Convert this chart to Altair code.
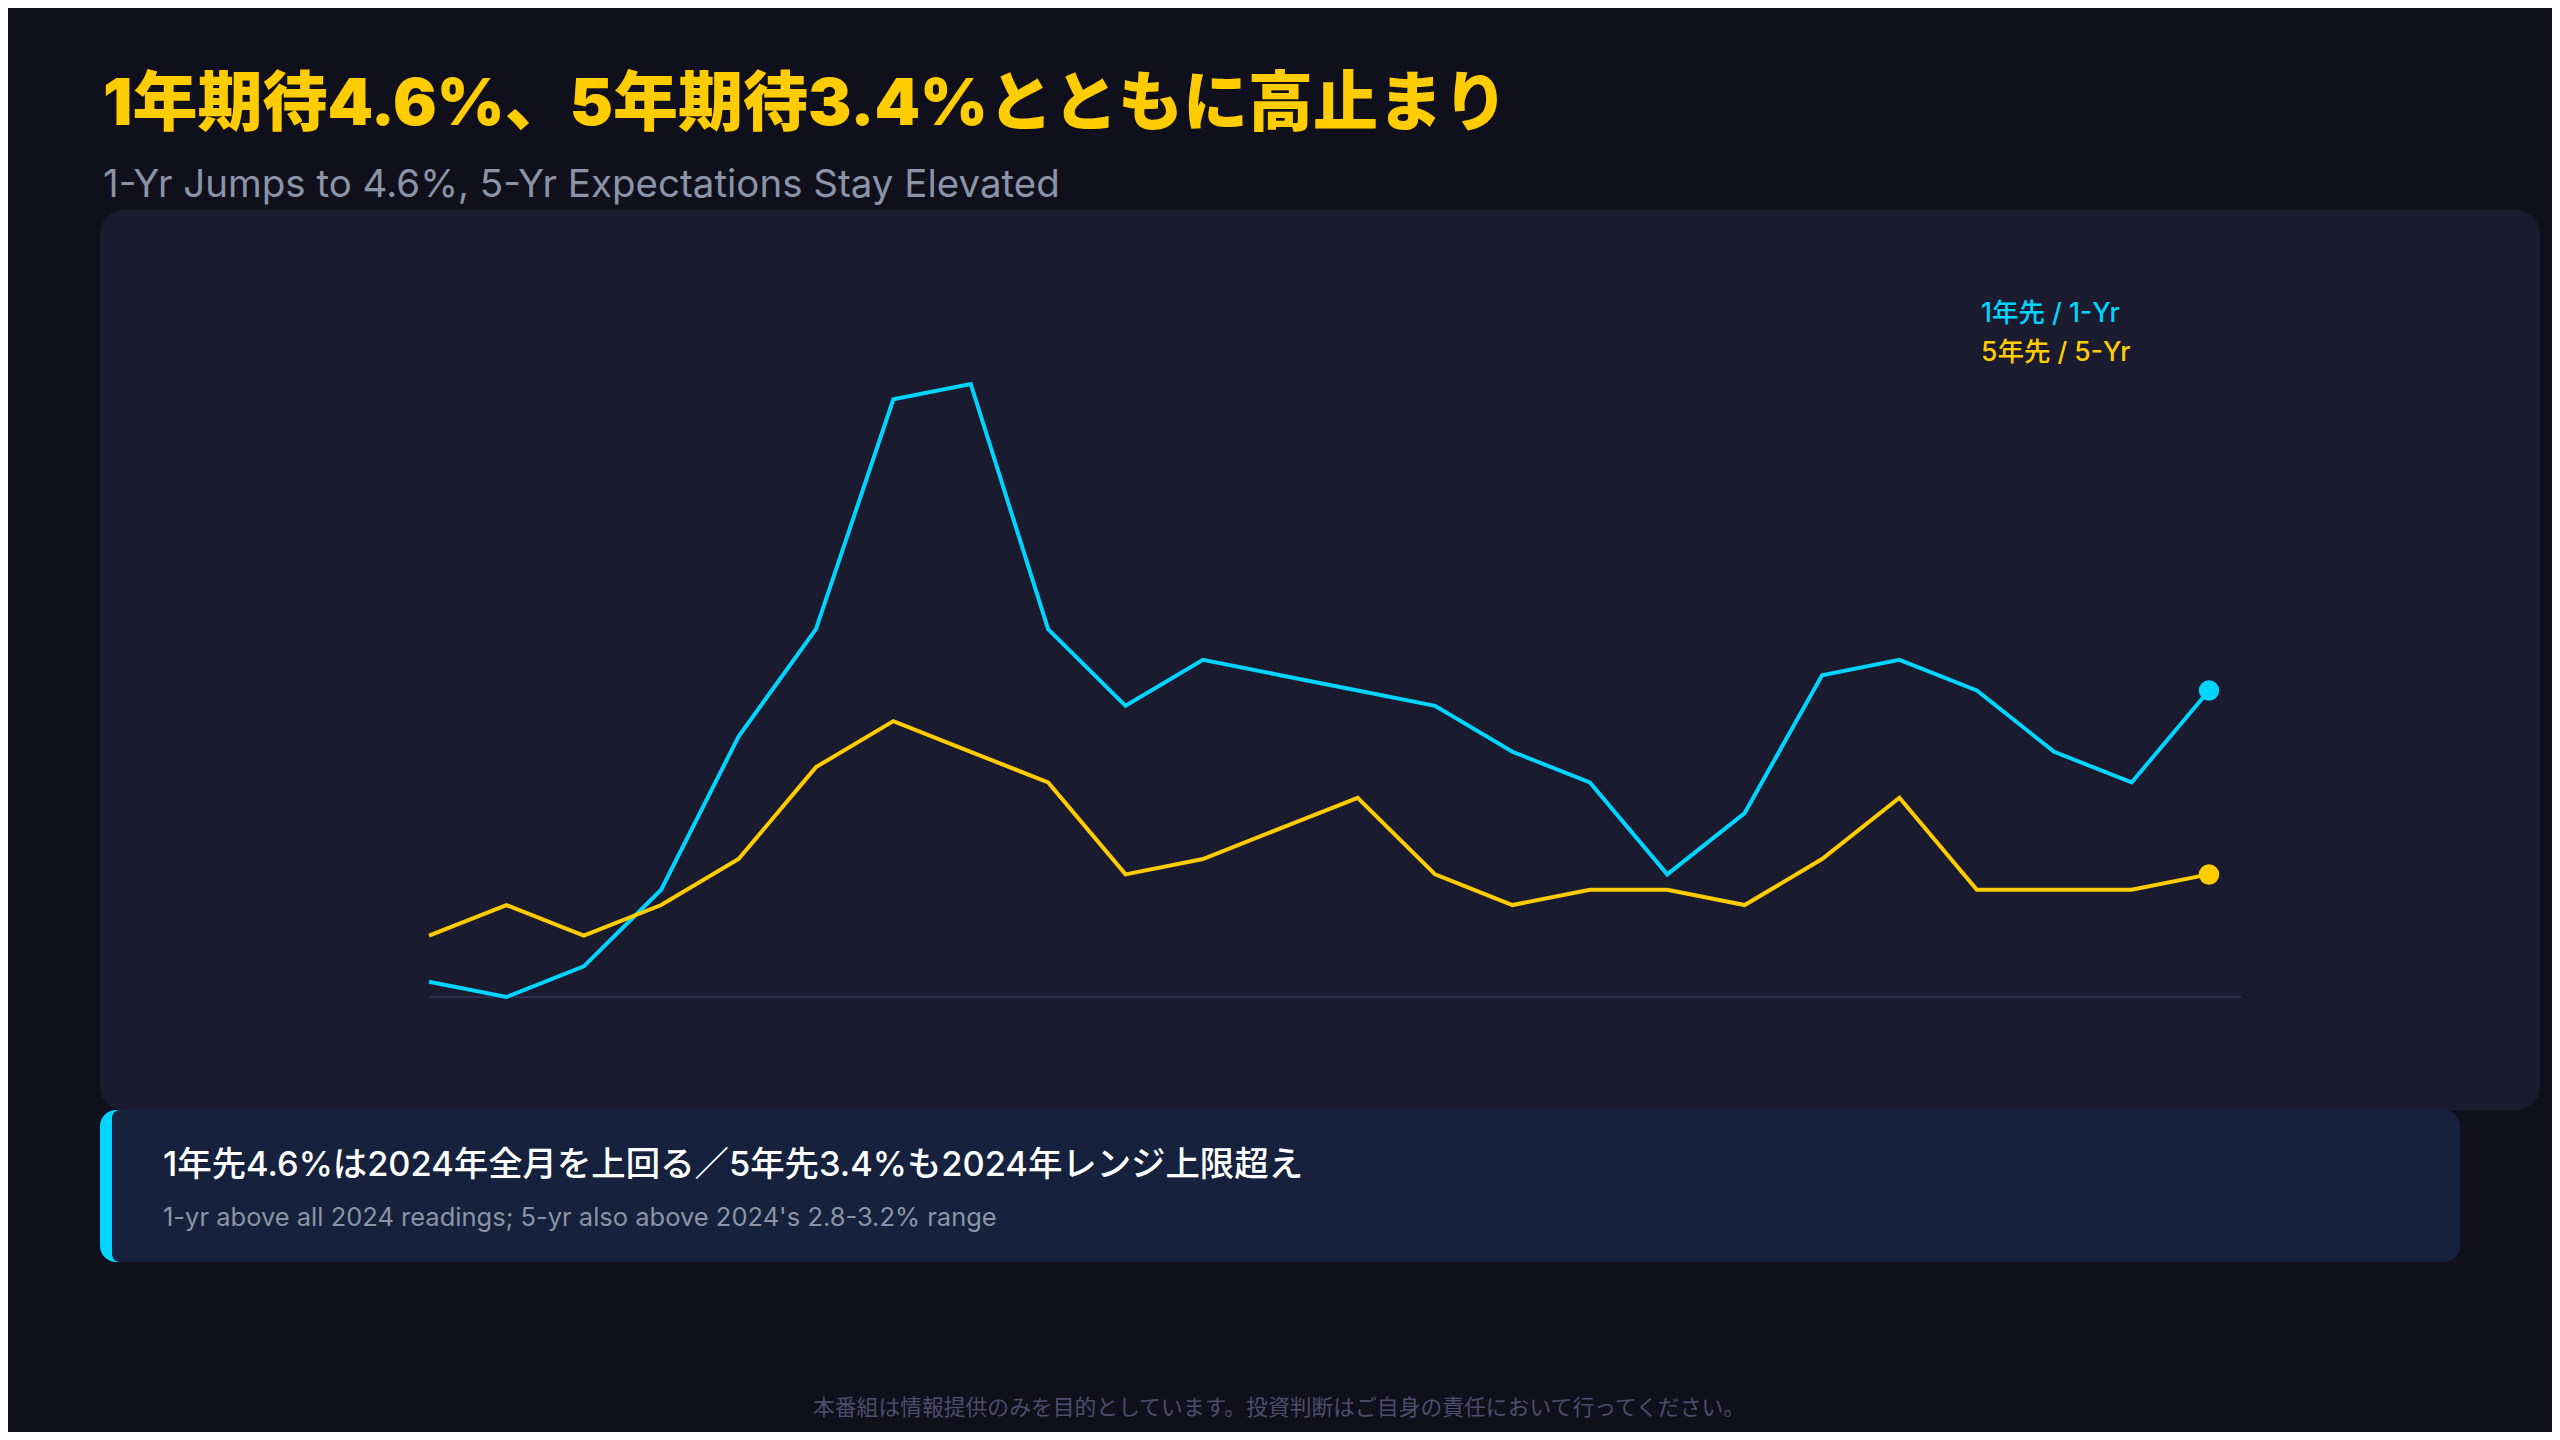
import altair as alt
import pandas as pd

# ---------------- data ----------------
month_idx = [0, 1, 2, 3, 4, 5, 6, 7, 8, 9, 10, 11,
             12, 13, 14, 15, 16, 17, 18, 19, 20, 21, 22, 23]
one_yr = [2.7, 2.6, 2.8, 3.3, 4.3, 5.0, 6.5, 6.6, 5.0, 4.5, 4.8, 4.7,
          4.6, 4.5, 4.2, 4.0, 3.4, 3.8, 4.7, 4.8, 4.6, 4.2, 4.0, 4.6]
five_yr = [3.0, 3.2, 3.0, 3.2, 3.5, 4.1, 4.4, 4.2, 4.0, 3.4, 3.5, 3.7,
           3.9, 3.4, 3.2, 3.3, 3.3, 3.2, 3.5, 3.9, 3.3, 3.3, 3.3, 3.4]
series_names = ["1年先 / 1-Yr", "5年先 / 5-Yr"]
series_colors = ["#00D4FF", "#FFCC00"]

title_text = "1年期待4.6%、5年期待3.4%とともに高止まり"
subtitle_text = "1-Yr Jumps to 4.6%, 5-Yr Expectations Stay Elevated"
callout_main = "1年先4.6%は2024年全月を上回る／5年先3.4%も2024年レンジ上限超え"
callout_sub = "1-yr above all 2024 readings; 5-yr also above 2024's 2.8-3.2% range"
footer_text = "本番組は情報提供のみを目的としています。投資判断はご自身の責任において行ってください。"

# ---------------- build ----------------
W, H = 2544, 1424          # page minus the 8px body margin
O = 8                      # page offset of the chart origin
BG = "#10101C"
PANEL = "#1A1B2E"
CALLOUT = "#16213E"
JP = "Noto Sans CJK JP"
MIX = "Inter, 'Noto Sans CJK JP'"
LAT = "Inter"

df = pd.DataFrame({
    "idx": month_idx + month_idx,
    "value": one_yr + five_yr,
    "series": [series_names[0]] * len(one_yr) + [series_names[1]] * len(five_yr),
})
last = df[df["idx"] == month_idx[-1]]

x_scale = alt.Scale(domain=[month_idx[0], month_idx[-1]], range=[429 - O, 2209 - O])
y_scale = alt.Scale(domain=[2.6, 6.6], range=[997 - O, 384 - O], zero=False, nice=False)
color_scale = alt.Scale(domain=series_names, range=series_colors)

one = pd.DataFrame({"k": [0]})


def box(x1, x2, y1, y2, color, **kw):
    return alt.Chart(one).mark_rect(color=color, **kw).encode(
        x=alt.value(x1 - O), x2=alt.value(x2 - O),
        y=alt.value(y1 - O), y2=alt.value(y2 - O)
    )


def label(text, x, y, size, color, weight="normal", font=JP, align="left"):
    return alt.Chart(pd.DataFrame({"t": [text]})).mark_text(
        align=align, baseline="alphabetic", fontSize=size, fontWeight=weight,
        font=font, color=color
    ).encode(text="t:N", x=alt.value(x - O), y=alt.value(y - O))


panel = box(100, 2540, 210, 1110, PANEL, cornerRadius=24)
callout_bar = box(100, 140, 1110, 1262, series_colors[0], cornerRadius=16)
callout_box = box(112, 2460, 1110, 1262, CALLOUT,
                  cornerRadiusTopLeft=8, cornerRadiusBottomLeft=8,
                  cornerRadiusTopRight=16, cornerRadiusBottomRight=16)

baseline = alt.Chart(one).mark_rule(color="#2E2D4D", strokeWidth=2).encode(
    x=alt.value(429 - O), x2=alt.value(2241 - O), y=alt.value(997 - O)
)

enc = dict(
    x=alt.X("idx:Q", scale=x_scale, axis=None),
    y=alt.Y("value:Q", scale=y_scale, axis=None),
    color=alt.Color("series:N", scale=color_scale, legend=None),
)
lines = alt.Chart(df).mark_line(strokeWidth=4, strokeJoin="miter").encode(**enc)
dots = alt.Chart(last).mark_circle(size=420, opacity=1).encode(**enc)

title = label(title_text, 103, 125, 65, "#FFCC00", weight=900, font=MIX)
subtitle = label(subtitle_text, 103, 197, 38.5, "#8A94A6", font=LAT)
leg1 = label(series_names[0], 1981, 322, 26.5, series_colors[0], weight=500, font=MIX)
leg2 = label(series_names[1], 1981, 361, 26.5, series_colors[1], weight=500, font=MIX)
c_main = label(callout_main, 163, 1176, 34.4, "#FFFFFF", weight=500, font=MIX)
c_sub = label(callout_sub, 163, 1226, 25.5, "#8A94A6", font=LAT)
footer = label(footer_text, 1279, 1415, 21.8, "#4E4D6B", align="center")

chart = alt.layer(
    panel, callout_bar, callout_box, baseline, lines, dots,
    title, subtitle, leg1, leg2, c_main, c_sub, footer
).properties(
    width=W, height=H,
    autosize=alt.AutoSizeParams(type="none"),
    padding=0,
    background=BG,
).configure_view(strokeWidth=0)

chart.save("out.html", embed_options={"renderer": "svg", "actions": False})
